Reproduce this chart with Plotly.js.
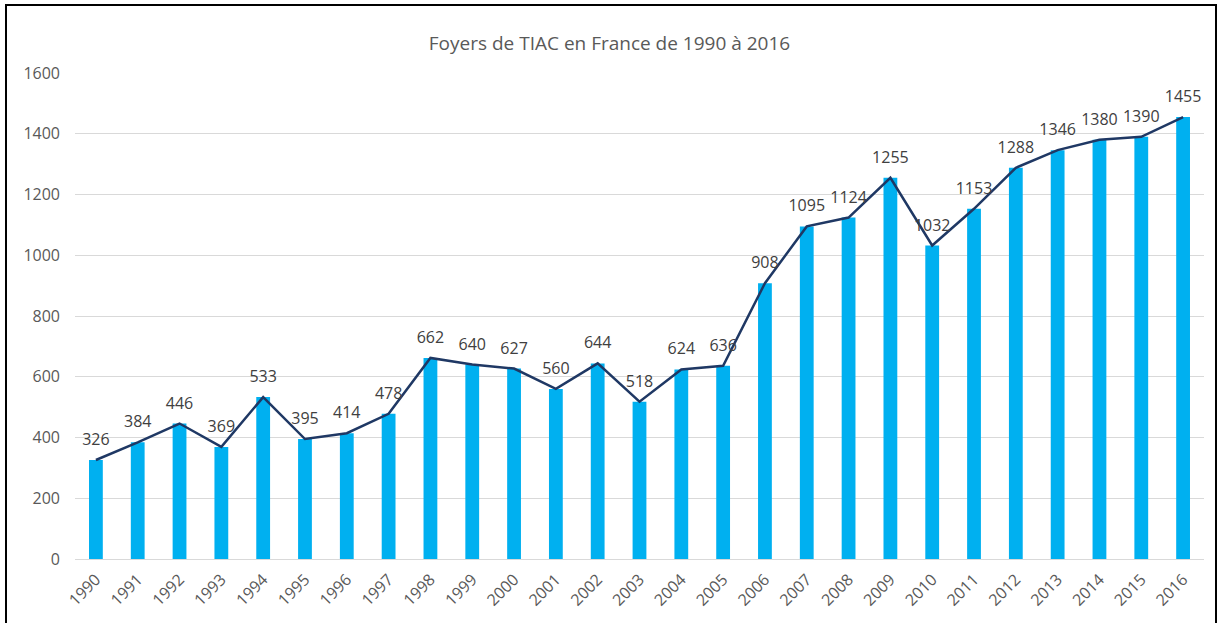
<!DOCTYPE html>
<html>
<head>
<meta charset="utf-8">
<script src="https://cdn.plot.ly/plotly-3.0.1.min.js"></script>
<style>
  body { margin: 0; background: #fff; }
  #chart { width: 1219px; height: 623px; }
  #frame { position: absolute; left: 5px; top: 4px; width: 1208px; height: 640px;
           border: 2px solid #000; pointer-events: none; }
</style>
</head>
<body>
<div id="chart"></div>
<div id="frame"></div>
<script>
// Années et nombre de foyers de TIAC
const annees = ['1990','1991','1992','1993','1994','1995','1996','1997','1998','1999',
                '2000','2001','2002','2003','2004','2005','2006','2007','2008','2009',
                '2010','2011','2012','2013','2014','2015','2016'];
const foyers = [326, 384, 446, 369, 533, 395, 414, 478, 662, 640,
                627, 560, 644, 518, 624, 636, 908, 1095, 1124, 1255,
                1032, 1153, 1288, 1346, 1380, 1390, 1455];

const police = '"Open Sans", sans-serif';

const barres = {
    x: annees,
    y: foyers,
    type: 'bar',
    marker: { color: '#00B0F0' },
    hoverinfo: 'x+y'
};

const courbe = {
    x: annees,
    y: foyers,
    type: 'scatter',
    mode: 'lines',
    line: { color: '#1F3864', width: 2.5 },
    hoverinfo: 'skip'
};

// étiquettes de données : marqueurs invisibles pour décaler le texte
const etiquettes = {
    x: annees,
    y: foyers,
    type: 'scatter',
    mode: 'markers+text',
    text: foyers.map(String),
    textposition: 'top center',
    textfont: { size: 16, color: '#404040', family: police },
    marker: { size: 16, color: 'rgba(0,0,0,0)' },
    cliponaxis: false,
    hoverinfo: 'skip'
};

const layout = {
    title: {
        text: 'Foyers de TIAC en France de 1990 à 2016',
        font: { size: 19, color: '#595959', family: police },
        x: 0.5, xanchor: 'center',
        y: 0.931, yanchor: 'middle'
    },
    showlegend: false,
    bargap: 0.67,
    xaxis: {
        type: 'category',
        range: [-0.5, annees.length - 0.5],
        tickangle: -45,
        tickfont: { size: 16, color: '#595959', family: police },
        ticklabelstandoff: 4,
        showgrid: false,
        showline: true,
        linecolor: '#D9D9D9',
        linewidth: 1,
        ticks: '',
        automargin: false
    },
    yaxis: {
        range: [0, 1600],
        dtick: 200,
        tickfont: { size: 16, color: '#595959', family: police },
        ticklabelstandoff: 14,
        gridcolor: '#D9D9D9',
        gridwidth: 1,
        zeroline: false,
        showline: false,
        ticks: '',
        automargin: false
    },
    margin: { l: 75, r: 15, t: 73, b: 64 },
    plot_bgcolor: '#ffffff',
    paper_bgcolor: '#ffffff'
};

Plotly.newPlot('chart', [barres, courbe, etiquettes], layout, { displayModeBar: false });
</script>
</body>
</html>
